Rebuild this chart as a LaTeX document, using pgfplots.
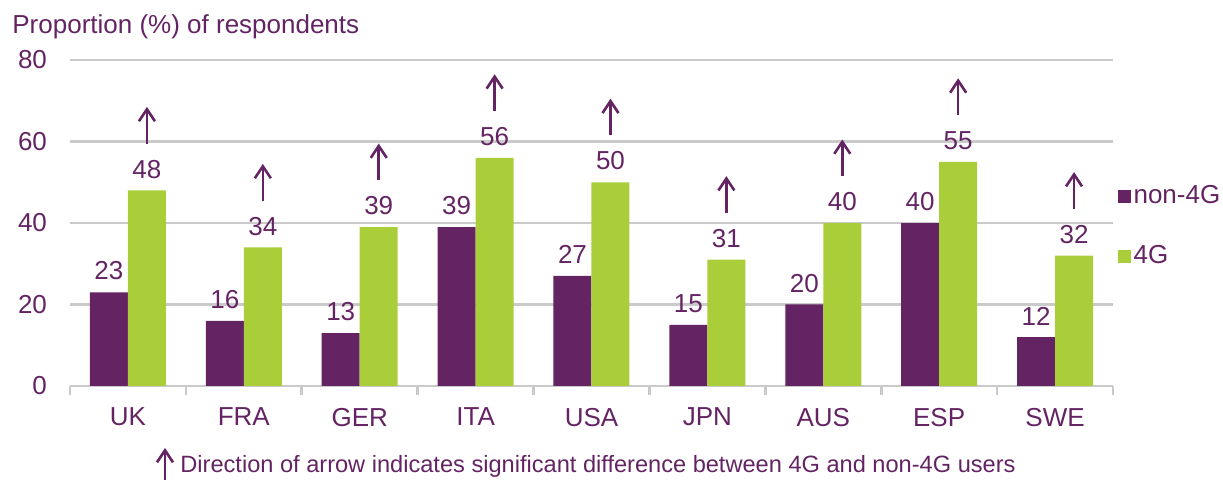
\documentclass[border=0pt]{standalone}
\usepackage{fontspec}
\setmainfont{Liberation Sans}
\usepackage{pgfplots}
\usepackage{pgfplotstable}
\pgfplotsset{compat=1.18}
\usetikzlibrary{arrows.meta}
\definecolor{cpurple}{HTML}{642463}
\definecolor{cgreen}{HTML}{AACE39}
\definecolor{cgrid}{HTML}{CACACA}
\pgfplotstableread{
x n g
0 23 48
1 16 34
2 13 39
3 39 56
4 27 50
5 15 31
6 20 40
7 40 55
8 12 32
}\datatable
\newcommand\lbl{\fontsize{13}{15.6}\selectfont}
\begin{document}
\lbl
\begin{tikzpicture}
\useasboundingbox (-35pt,-47pt) rectangle (576.5pt,193pt);
\begin{axis}[
  scale only axis, width=521.5pt, height=163pt,
  xmin=-0.5, xmax=8.5, ymin=0, ymax=80,
  ytick={0,20,...,80},
  xtick={0,...,8},
  xticklabels={UK,FRA,GER,ITA,USA,JPN,AUS,ESP,SWE},
  major tick length=0pt,
  axis x line*=bottom, axis y line*=left,
  y axis line style={draw=none},
  x axis line style={cgrid, line width=1.3pt},
  ymajorgrids, grid style={cgrid, line width=1.3pt},
  extra x ticks={-0.5,0.5,...,8.5}, extra x tick labels={},
  extra x tick style={major tick length=4.5pt, tick align=outside, major tick style={cgrid, line width=1.3pt}},
  tick label style={font=\lbl, text=cpurple},
  yticklabel style={xshift=-7pt},
  xticklabel style={yshift=-6.5pt},
  /pgf/number format/assume math mode=true,
  clip=false,
  legend style={at={(1.004,0.626)}, anchor=north west, draw=none, fill=none, inner sep=0pt, row sep=16pt, font=\lbl, text=cpurple, nodes={inner sep=1.5pt}},
  legend cell align=left,
  legend image code/.code={\fill[#1] (0pt,-3.25pt) rectangle (6.5pt,3.25pt);},
]
\addplot[ybar, bar width=19pt, bar shift=-9.5pt, fill=cpurple, draw=none,
  nodes near coords, nodes near coords style={text=cpurple, font=\lbl, xshift=-9.5pt, yshift=1.5pt}]
  table[x=x, y=n]{\datatable};
\addlegendentry{non-4G}
\addplot[ybar, bar width=19pt, bar shift=9.5pt, fill=cgreen, draw=none,
  nodes near coords, nodes near coords style={text=cpurple, font=\lbl, xshift=9.5pt, yshift=1.5pt}]
  table[x=x, y=g]{\datatable};
\addlegendentry{4G}
\addplot[forget plot, cpurple, line width=1.3pt, -{Straight Barb[length=6pt,width=8pt]}, quiver={u=0, v=9}]
  table[x expr=\thisrow{x}+0.164, y expr=\thisrow{g}+11.5]{\datatable};
\end{axis}
\node[anchor=west, text=cpurple, inner sep=0pt] at (-29pt,179.5pt) {Proportion (\%) of respondents};
\draw[cpurple, line width=1.3pt, -{Straight Barb[length=6pt,width=8pt]}] (47.5pt,-47pt) -- (47.5pt,-31pt);
\node[anchor=west, text=cpurple, inner sep=0pt, font=\fontsize{11.8}{14}\selectfont] at (55pt,-40pt) {Direction of arrow indicates significant difference between 4G and non-4G users};
\end{tikzpicture}
\end{document}
